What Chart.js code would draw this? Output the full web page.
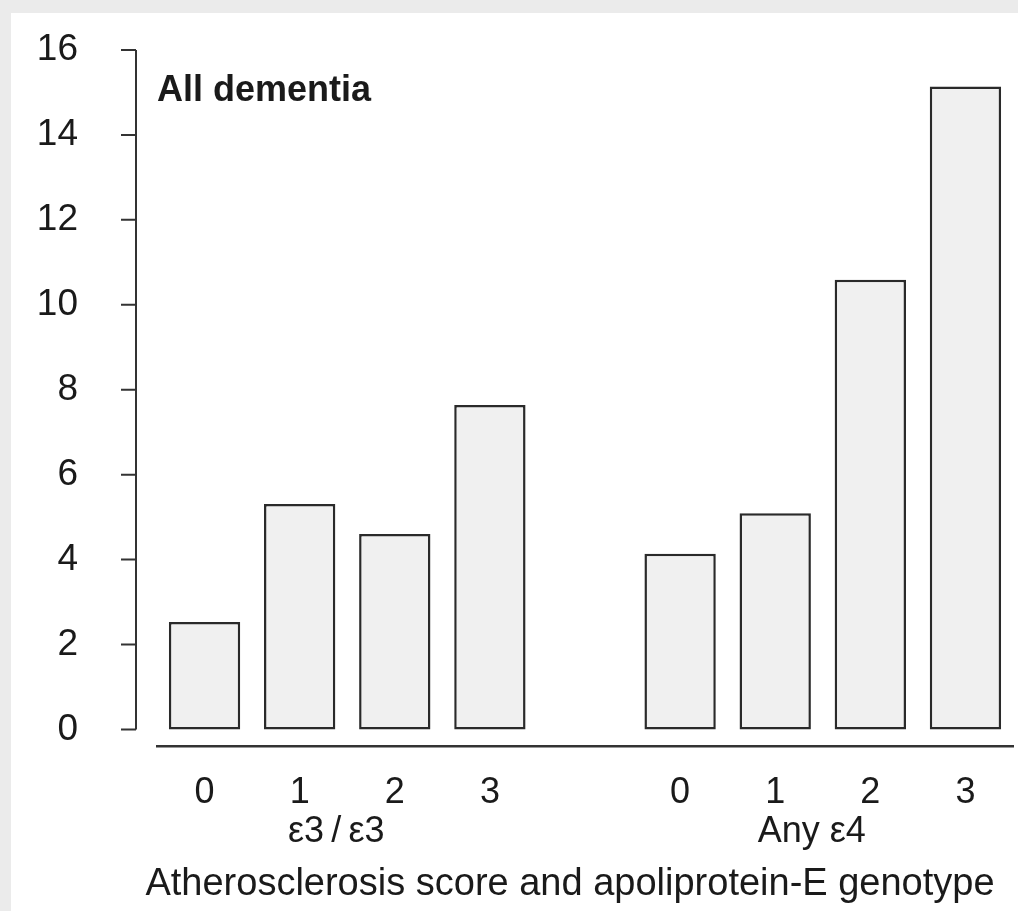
<!DOCTYPE html>
<html>
<head>
<meta charset="utf-8">
<script src="https://cdn.jsdelivr.net/npm/chart.js@4"></script>
<style>
  html, body { margin: 0; padding: 0; background: #ebebeb; overflow: hidden; }
  #panel { position: absolute; left: 11px; top: 13px; right: 0; bottom: 0; background: #fff; }
  #chart { position: absolute; left: 0; top: 0; }
</style>
</head>
<body>
<div id="panel"></div>
<canvas id="chart" width="1018" height="911"></canvas>
<script>
  // Chart data
  var scores = ['0', '1', '2', '3'];
  var groups = ['\u03b53\u2009/\u2009\u03b53', 'Any \u03b54'];
  var e3e3 = [2.53, 5.31, 4.60, 7.64];
  var anyE4 = [4.14, 5.09, 10.59, 15.14];
  var yTicks = [0, 2, 4, 6, 8, 10, 12, 14, 16];

  var labels = scores.concat(['']).concat(scores);
  var values = e3e3.concat([null]).concat(anyE4);

  var ink = '#1a1a1a';
  var font = 'Liberation Sans, Arial, sans-serif';

  // axis line, tick marks and texts drawn on top
  var extras = {
    id: 'extras',
    afterDraw: function(chart) {
      var ctx = chart.ctx;
      var area = chart.chartArea;
      var y = chart.scales.y;
      var x = chart.scales.x;
      var axisX = area.left - 21;

      ctx.save();
      ctx.strokeStyle = '#333';
      ctx.lineWidth = 2;
      ctx.beginPath();
      ctx.moveTo(axisX, y.getPixelForValue(yTicks[yTicks.length - 1]));
      ctx.lineTo(axisX, y.getPixelForValue(yTicks[0]));
      yTicks.forEach(function(v) {
        var py = y.getPixelForValue(v);
        ctx.moveTo(axisX - 15, py);
        ctx.lineTo(axisX, py);
      });
      ctx.stroke();

      ctx.fillStyle = ink;
      ctx.textBaseline = 'alphabetic';

      ctx.font = 'bold 36px ' + font;
      ctx.textAlign = 'left';
      ctx.fillText('All dementia', area.left, area.top + 51);

      // group labels under the score ticks
      ctx.font = '36px ' + font;
      ctx.textAlign = 'center';
      var start = 0;
      groups.forEach(function(g) {
        var sum = 0;
        for (var i = 0; i < scores.length; i++) sum += x.getPixelForValue(start + i);
        ctx.fillText(g, sum / scores.length - 11, 842);
        start += scores.length + 1;
      });

      ctx.font = '38px ' + font;
      ctx.fillText('Atherosclerosis score and apoliprotein-E genotype', (area.left + area.right) / 2 - 15, 895);
      ctx.restore();
    }
  };

  new Chart(document.getElementById('chart').getContext('2d'), {
    type: 'bar',
    data: {
      labels: labels,
      datasets: [{
        data: values,
        backgroundColor: '#f0f0f0',
        borderColor: '#2a2a2a',
        borderWidth: 2.5,
        borderSkipped: false,
        barPercentage: 0.75,
        categoryPercentage: 1
      }]
    },
    options: {
      responsive: false,
      animation: false,
      layout: { padding: { left: 0, top: 50, right: 5, bottom: 0 } },
      plugins: { legend: { display: false }, tooltip: { enabled: false } },
      scales: {
        x: {
          grid: { display: false },
          border: { display: true, color: '#333', width: 2.5 },
          ticks: { color: ink, font: { family: font, size: 36 }, padding: 17, maxRotation: 0 },
          afterFit: function(scale) { scale.height = 165; }
        },
        y: {
          min: -0.39,
          max: 16,
          grid: { display: false },
          border: { display: false },
          ticks: { color: ink, font: { family: font, size: 37 }, padding: 71 },
          afterBuildTicks: function(scale) {
            scale.ticks = yTicks.map(function(v) { return { value: v }; });
          },
          afterFit: function(scale) {
            scale.width = 157;
            scale.paddingTop = 0;
            scale.paddingBottom = 0;
          }
        }
      }
    },
    plugins: [extras]
  });
</script>
</body>
</html>
